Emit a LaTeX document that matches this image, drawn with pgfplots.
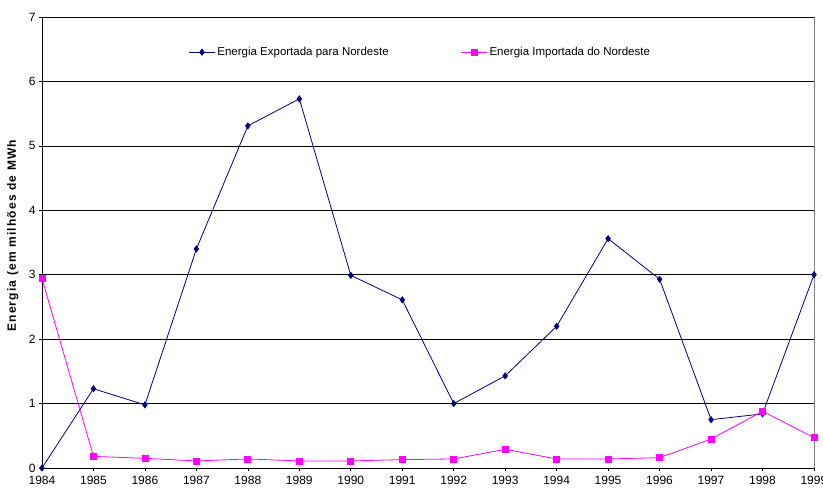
\documentclass[border=0pt]{standalone}
\usepackage{fontspec}
\setmainfont{Liberation Sans}
\usepackage{pgfplots}
\pgfplotsset{compat=1.18}
\definecolor{navyline}{RGB}{0,0,128}
\definecolor{magline}{RGB}{255,0,255}
\begin{document}
\begin{tikzpicture}
\begin{axis}[
  at={(0,0)}, anchor=south west,
  scale only axis,
  width=772pt, height=451pt,
  xmin=1984, xmax=1999,
  ymin=0, ymax=7,
  xtick={1984,...,1999},
  ytick={0,...,7},
  xticklabel style={/pgf/number format/1000 sep={}, yshift=-2pt},
  /pgf/number format/assume math mode=true,
  font=\fontsize{12}{14}\selectfont,
  ymajorgrids=true,
  grid style={black, line width=0.6pt},
  axis line style={black, line width=0.8pt},
  separate axis lines,
  axis x line*=bottom,
  axis y line*=left,
  x axis line style={-},
  y axis line style={-},
  tick align=outside,
  major tick length=3pt,
  tick style={black, line width=0.6pt},
  ylabel={\addfontfeature{LetterSpace=10}\bfseries Energia (em milhões de MWh},
  ylabel style={at={(axis description cs:-0.026,0.515)}, anchor=south},
  legend style={draw=none, fill=none, at={(0.49,0.922)}, anchor=center,
    legend columns=2, font=\fontsize{11.5}{13}\selectfont,
    /tikz/every even column/.append style={column sep=70pt}},
  legend cell align=left,
  legend image code/.code={%
    \draw[mark repeat=2,mark phase=2] plot coordinates {(0pt,0pt) (13pt,0pt) (26pt,0pt)};},
  clip=false,
]
\addplot[color=navyline, line width=0.8pt, mark=diamond*, mark size=3pt,
  mark options={fill=navyline}]
coordinates {
  (1984,0) (1985,1.23) (1986,0.98) (1987,3.40) (1988,5.31) (1989,5.73)
  (1990,2.99) (1991,2.61) (1992,1.00) (1993,1.43) (1994,2.20) (1995,3.56)
  (1996,2.93) (1997,0.75) (1998,0.84) (1999,3.00)
};
\addlegendentry{Energia Exportada para Nordeste}
\addplot[color=magline, line width=0.8pt, mark=square*, mark size=3pt,
  mark options={fill=magline}]
coordinates {
  (1984,2.94) (1985,0.18) (1986,0.15) (1987,0.11) (1988,0.14) (1989,0.11)
  (1990,0.11) (1991,0.13) (1992,0.14) (1993,0.29) (1994,0.14) (1995,0.14)
  (1996,0.16) (1997,0.45) (1998,0.88) (1999,0.47)
};
\addlegendentry{Energia Importada do Nordeste}
\draw[gray, line width=1pt] (rel axis cs:1,0) -- (rel axis cs:1,1);
\end{axis}
\pgfresetboundingbox
\path (-42pt,-22pt) rectangle (781pt,468pt);
\end{tikzpicture}
\end{document}
